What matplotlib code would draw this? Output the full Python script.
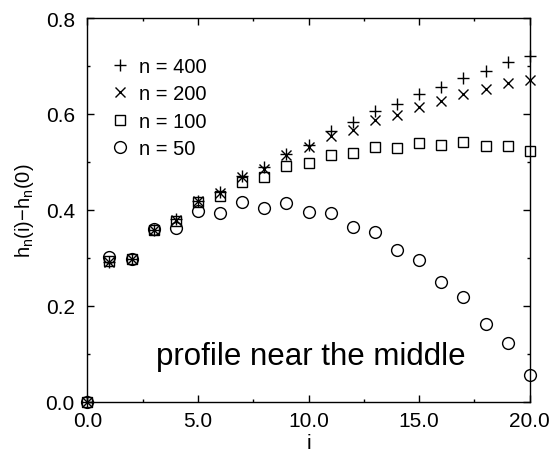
"""
Profile h_n(i) - h_n(0) near the middle for several system sizes n.
"""

import matplotlib
matplotlib.use("Agg")
import matplotlib.pyplot as plt
from matplotlib.ticker import MultipleLocator, FormatStrFormatter

plt.rcParams["font.family"] = ["Liberation Sans", "DejaVu Sans"]

# site index i
positions = list(range(21))

# h_n(i) - h_n(0)
profile_400 = [0.0, 0.291, 0.297, 0.358, 0.380, 0.419, 0.437, 0.471, 0.489, 0.517,
               0.535, 0.565, 0.583, 0.606, 0.621, 0.642, 0.656, 0.676, 0.689, 0.708, 0.721]
profile_200 = [0.0, 0.291, 0.297, 0.358, 0.378, 0.418, 0.436, 0.469, 0.486, 0.514,
               0.531, 0.553, 0.567, 0.587, 0.598, 0.615, 0.626, 0.642, 0.651, 0.665, 0.671]
profile_100 = [0.0, 0.293, 0.298, 0.359, 0.377, 0.416, 0.428, 0.459, 0.469, 0.492,
               0.497, 0.514, 0.518, 0.532, 0.530, 0.539, 0.535, 0.541, 0.533, 0.533, 0.523]
profile_50 = [0.0, 0.301, 0.297, 0.360, 0.362, 0.397, 0.393, 0.416, 0.404, 0.414,
              0.395, 0.393, 0.364, 0.353, 0.316, 0.295, 0.249, 0.218, 0.162, 0.122, 0.056]

series_labels = ["n = 400", "n = 200", "n = 100", "n = 50"]


def main():
    fig = plt.figure(figsize=(5.53, 4.60), dpi=100)
    ax = fig.add_axes([0.158, 0.1246, 0.800, 0.834])

    style = dict(linestyle="none", color="black", markerfacecolor="none",
                 markeredgewidth=1.0, clip_on=False)
    ax.plot(positions, profile_400, marker="+", markersize=9, label=series_labels[0], **style)
    ax.plot(positions, profile_200, marker="x", markersize=7, label=series_labels[1], **style)
    ax.plot(positions, profile_100, marker="s", markersize=7.5, label=series_labels[2], **style)
    ax.plot(positions, profile_50, marker="o", markersize=8.5, label=series_labels[3], **style)

    ax.set_xlim(0, 20)
    ax.set_ylim(0, 0.8)
    ax.xaxis.set_major_locator(MultipleLocator(5))
    ax.xaxis.set_minor_locator(MultipleLocator(2.5))
    ax.yaxis.set_major_locator(MultipleLocator(0.2))
    ax.yaxis.set_minor_locator(MultipleLocator(0.1))
    ax.xaxis.set_major_formatter(FormatStrFormatter("%.1f"))
    ax.yaxis.set_major_formatter(FormatStrFormatter("%.1f"))
    ax.tick_params(which="both", direction="in", top=True, right=True,
                   labelsize=15, width=1.0)
    ax.tick_params(axis="x", pad=7)
    ax.tick_params(axis="y", pad=9)
    ax.tick_params(which="major", length=5)
    ax.tick_params(which="minor", length=2.5)
    for spine in ax.spines.values():
        spine.set_linewidth(1.0)

    ax.set_xlabel("i", fontsize=15, labelpad=2)
    ax.set_ylabel(r"$\mathregular{h_n}$(i)−$\mathregular{h_n}$(0)", fontsize=14.5)
    ax.yaxis.set_label_coords(-0.115, 0.5)

    ax.text(10.1, 0.079, "profile near the middle", fontsize=22.5,
            ha="center", va="baseline")

    ax.legend(loc="upper left", bbox_to_anchor=(0.02, 0.935), frameon=False,
              fontsize=14.5, handlelength=1.0, handletextpad=0.4,
              labelspacing=0.41, borderpad=0.2)

    fig.savefig("out.png", dpi=100)


if __name__ == "__main__":
    main()
